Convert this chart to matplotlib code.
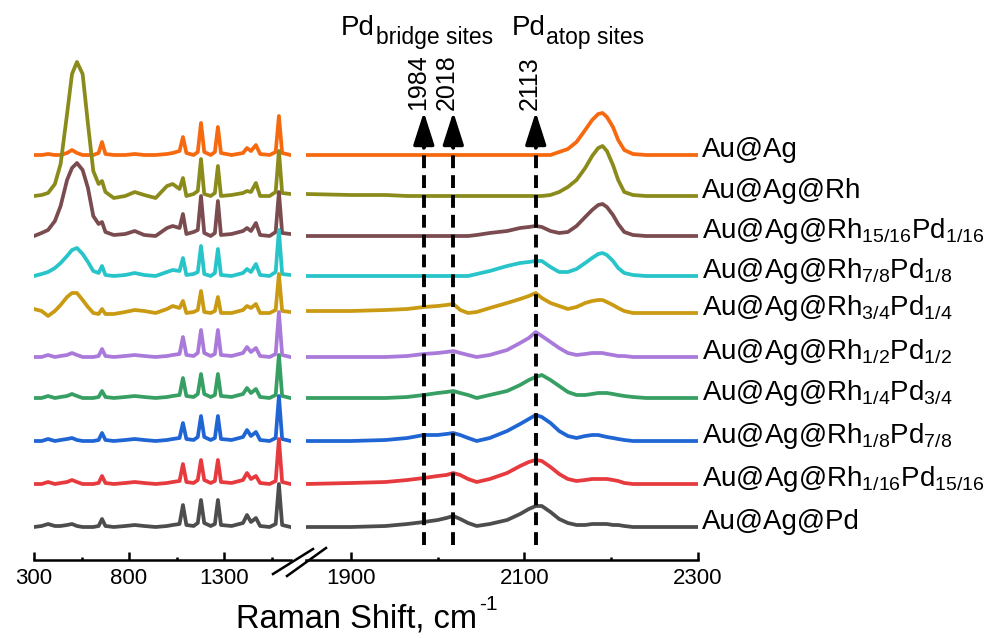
import matplotlib
matplotlib.use("Agg")
import matplotlib.pyplot as plt
from matplotlib.lines import Line2D

plt.rcParams['font.family'] = ['Liberation Sans', 'DejaVu Sans']
plt.rcParams['mathtext.fontset'] = 'custom'
plt.rcParams['mathtext.rm'] = 'Liberation Sans'
plt.rcParams['mathtext.it'] = 'Liberation Sans'
plt.rcParams['mathtext.default'] = 'regular'

# sample names, top to bottom
labels = [
    'Au@Ag',
    'Au@Ag@Rh',
    'Au@Ag@Rh$_{15/16}$Pd$_{1/16}$',
    'Au@Ag@Rh$_{7/8}$Pd$_{1/8}$',
    'Au@Ag@Rh$_{3/4}$Pd$_{1/4}$',
    'Au@Ag@Rh$_{1/2}$Pd$_{1/2}$',
    'Au@Ag@Rh$_{1/4}$Pd$_{3/4}$',
    'Au@Ag@Rh$_{1/8}$Pd$_{7/8}$',
    'Au@Ag@Rh$_{1/16}$Pd$_{15/16}$',
    'Au@Ag@Pd',
]
colors = ['#f6690f', '#8b8b1c', '#7a4c50', '#27c4c9', '#c99a12',
          '#a97ad9', '#379f63', '#1f66d4', '#e63a3e', '#4d4d4d']

# vertical offset of each trace (stacking)
offsets = [405, 364, 324, 284, 247, 203, 162, 119, 76, 33]

# low-wavenumber window, cm-1
x_left = [300, 340, 374, 410, 440, 474, 500, 526, 556, 584, 612, 640, 658, 676,
          720, 780, 830, 880, 940, 1000, 1030, 1066, 1084, 1102, 1140, 1162,
          1179, 1196, 1230, 1252, 1268, 1284, 1340, 1400, 1421, 1442, 1468,
          1490, 1540, 1572, 1589, 1606, 1650]

au_ag_l = [0, 0, 1, 0, 0, 2, 5, 2, 0, 0, 0, 2, 13, 1, 0, 0, 1, 0, 0, 1, 2, 4, 18,
           2, 0, 3, 32, 3, 0, 3, 28, 2, 0, 2, 7, 4, 10, 1, 0, 3, 39, 2, 0]
rh_l = [0, 1, 3, 12, 32, 82, 122, 134, 122, 72, 25, 12, 15, 4, -2, 0, 4, 1, -2,
        10, 12, 7, 18, 0, 2, 5, 37, 2, 0, 3, 30, 0, 1, 3, 5, 4, 13, 0, 0, 4, 45,
        3, 2]
rh15_l = [0, 3, 6, 15, 30, 56, 68, 73, 66, 48, 20, 12, 14, 4, 1, 2, 5, 1, 0, 8,
          10, 8, 22, 2, 4, 6, 40, 3, 0, 3, 35, 1, 2, 5, 8, 5, 13, 1, 0, 4, 44, 3, 2]
rh78_l = [0, 2, 4, 8, 13, 20, 26, 28, 22, 14, 5, 3, 10, 1, 0, 1, 3, 1, 0, 4, 6,
          5, 18, 1, 2, 4, 30, 2, 0, 3, 27, 1, 0, 3, 7, 4, 12, 1, 0, 4, 46, 2, 1]
rh34_l = [4, 2, -3, 2, 8, 16, 20, 20, 13, 6, 0, -1, 4, -1, -1, 1, 3, 2, 0, 4, 7,
          5, 12, 0, 1, 3, 22, 1, 0, 2, 16, 0, 0, 3, 7, 5, 9, 0, 0, 3, 39, 2, 1]
rh12_l = [0, 0, 2, 0, 1, 2, 4, 2, 0, 0, 0, 1, 8, 1, 0, 1, 2, 1, 0, 1, 2, 3, 20,
          2, 1, 4, 27, 4, 1, 3, 27, 2, 1, 4, 10, 5, 9, 1, 0, 3, 45, 2, 0]
rh14_l = [0, 0, 2, 0, 1, 2, 4, 2, 0, 0, 0, 1, 7, 1, 0, 1, 2, 1, 0, 1, 2, 3, 20,
          2, 1, 4, 24, 4, 1, 3, 24, 2, 1, 4, 10, 5, 9, 1, 0, 3, 43, 2, 0]
rh18_l = [0, 0, 2, 0, 1, 2, 3, 1, 0, 0, 0, 1, 8, 1, 0, 1, 2, 1, 0, 1, 2, 3, 18,
          2, 1, 4, 25, 4, 1, 3, 25, 2, 1, 4, 11, 5, 9, 1, 0, 3, 45, 2, 0]
rh116_l = [0, 0, 2, 0, 1, 2, 4, 2, 0, 0, 0, 1, 8, 1, 0, 1, 2, 1, 0, 1, 2, 3, 20,
           2, 1, 4, 24, 4, 1, 3, 24, 2, 1, 4, 11, 5, 8, 1, 0, 3, 45, 2, 0]
pd_l = [0, 1, 3, 1, 1, 2, 3, 1, 0, 0, 0, 1, 8, 1, 0, 1, 2, 1, 0, 1, 2, 3, 22, 2,
        1, 4, 27, 4, 1, 3, 27, 2, 1, 4, 12, 5, 9, 1, 0, 3, 43, 2, 0]

# CO stretching window, cm-1
x_right = [1848, 1900, 1940, 1965, 1984, 2000, 2010, 2018, 2026, 2035,
           2045, 2060, 2080, 2095, 2105, 2113, 2120, 2130, 2140, 2150,
           2160, 2170, 2178, 2185, 2190, 2195, 2202, 2208, 2215, 2225,
           2240, 2270, 2300]

au_ag_r = [0, 0, 0, 0, 0, 0, 0, 0, 0, 0,
           0, 0, 0, 0, 0, 0, 0, 0, 3, 6,
           13, 25, 35, 41, 42, 38, 28, 15, 5, 1,
           0, 0, 0]
rh_r = [2, 1, 1, 0, 0, 0, 0, 0, 0, 0,
        0, 0, 0, 0, 0, 0, 0, 1, 4, 9,
        16, 28, 40, 48, 50, 45, 31, 16, 4, 1,
        0, 0, 0]
rh15_r = [0, 0, 0, 0, 0, 0, 0, 0, 0, 0,
          1, 3, 5, 8, 9, 10, 9, 5, 3, 4,
          10, 19, 26, 31, 32, 29, 21, 12, 4, 1,
          0, 0, 0]
rh78_r = [0, 0, 0, 0, 0, 0, 0, 0, 0, 0,
          2, 5, 10, 13, 14, 15, 15, 9, 4, 4,
          7, 13, 18, 22, 23, 21, 15, 8, 3, 1,
          0, 0, 0]
rh34_r = [2, 2, 3, 4, 6, 7, 8, 9, 3, 0,
          1, 5, 10, 14, 17, 20, 15, 10, 7, 4,
          6, 10, 12, 13, 13, 11, 8, 5, 2, 0,
          0, 0, 0]
rh12_r = [0, 0, 0, 1, 3, 4, 5, 6, 4, 2,
          0, 2, 7, 14, 19, 25, 21, 15, 9, 4,
          2, 3, 4, 4, 4, 3, 2, 1, 1, 0,
          0, 0, 0]
rh14_r = [0, 0, 0, 1, 3, 5, 6, 7, 5, 3,
          0, 3, 7, 13, 18, 21, 23, 18, 12, 6,
          3, 3, 4, 5, 5, 5, 4, 3, 2, 1,
          0, 0, 0]
rh18_r = [0, 0, 1, 3, 6, 6, 7, 8, 6, 3,
          0, 3, 10, 17, 22, 26, 24, 18, 10, 5,
          3, 5, 6, 6, 5, 4, 3, 2, 1, 0,
          0, 0, 0]
rh116_r = [0, 1, 2, 4, 6, 8, 9, 11, 9, 5,
           2, 5, 11, 18, 22, 24, 23, 17, 10, 5,
           3, 4, 5, 5, 5, 5, 4, 3, 1, 0,
           0, 0, 0]
pd_r = [0, 0, 1, 3, 5, 7, 9, 11, 8, 4,
        1, 3, 7, 13, 18, 21, 21, 15, 8, 4,
        2, 2, 3, 3, 3, 3, 2, 2, 1, 0,
        0, 0, 0]

left_spectra = [au_ag_l, rh_l, rh15_l, rh78_l, rh34_l, rh12_l, rh14_l, rh18_l, rh116_l, pd_l]
right_spectra = [au_ag_r, rh_r, rh15_r, rh78_r, rh34_r, rh12_r, rh14_r, rh18_r, rh116_r, pd_r]

marked_peaks = [1984, 2018, 2113]

W, H = 990, 638
fig = plt.figure(figsize=(W / 100, H / 100), dpi=100)
ax_l = fig.add_axes([34 / W, 78 / H, 256.5 / W, 540 / H])
ax_r = fig.add_axes([305.8 / W, 78 / H, 392.2 / W, 540 / H])

for i in range(len(labels)):
    ax_l.plot(x_left, [v + offsets[i] for v in left_spectra[i]], color=colors[i],
              lw=2.7, solid_joinstyle='round')
    ax_r.plot(x_right, [v + offsets[i] for v in right_spectra[i]], color=colors[i],
              lw=2.7, solid_joinstyle='round')
    ax_r.text(2305, offsets[i] - 2, labels[i], fontsize=20, va='baseline', ha='left',
              clip_on=False)

ax_l.set_xlim(300, 1650)
ax_r.set_xlim(1848, 2300)
ax_l.set_xticks([300, 800, 1300])
ax_l.set_xticks([550, 1050, 1550], minor=True)
ax_r.set_xticks([1900, 2100, 2300])
ax_r.set_xticks([2000, 2200], minor=True)

for ax in (ax_l, ax_r):
    ax.set_ylim(0, 540)
    ax.set_yticks([])
    for s in ('top', 'right', 'left'):
        ax.spines[s].set_visible(False)
    ax.spines['bottom'].set_linewidth(1.8)
    ax.tick_params(axis='x', which='major', direction='in', length=6, width=1.8,
                   labelsize=16, pad=6)
    ax.tick_params(axis='x', which='minor', direction='in', length=2.5, width=1.8)
    ax.patch.set_visible(False)

# dashed markers with arrows
for p in marked_peaks:
    ax_r.plot([p, p], [15, 420], color='black', lw=2.8, dashes=(3.3, 1.8))
    ax_r.annotate('', xy=(p, 448), xytext=(p, 412),
                  arrowprops=dict(arrowstyle='-|>,head_length=1.0,head_width=0.32',
                                  color='black', lw=2.5, mutation_scale=20,
                                  shrinkA=0, shrinkB=0),
                  annotation_clip=False)
    ax_r.text(p - 7, 450, str(p), rotation=90, ha='center', va='bottom', fontsize=18)

# headers
ax_r.text(1888.5, 525, 'Pd', fontsize=20, va='baseline', ha='left', clip_on=False)
ax_r.text(1928.7, 516, 'bridge sites', fontsize=16.5, va='baseline', ha='left', clip_on=False)
ax_r.text(2085, 525, 'Pd', fontsize=20, va='baseline', ha='left', clip_on=False)
ax_r.text(2125, 516, 'atop sites', fontsize=16.5, va='baseline', ha='left', clip_on=False)

# axis break marks
for (x0, y0, x1, y1) in [(273, 574, 313, 549), (287, 576, 326, 548)]:
    fig.add_artist(Line2D([x0 / W, x1 / W], [1 - y0 / H, 1 - y1 / H], color='black',
                          lw=1.8, transform=fig.transFigure))

fig.text(236 / W, 1 - 627 / H, 'Raman Shift, cm', ha='left', va='baseline', fontsize=23.5)
fig.text(479 / W, 1 - 610 / H, '-1', ha='left', va='baseline', fontsize=15)

fig.savefig('out.png', dpi=100)
